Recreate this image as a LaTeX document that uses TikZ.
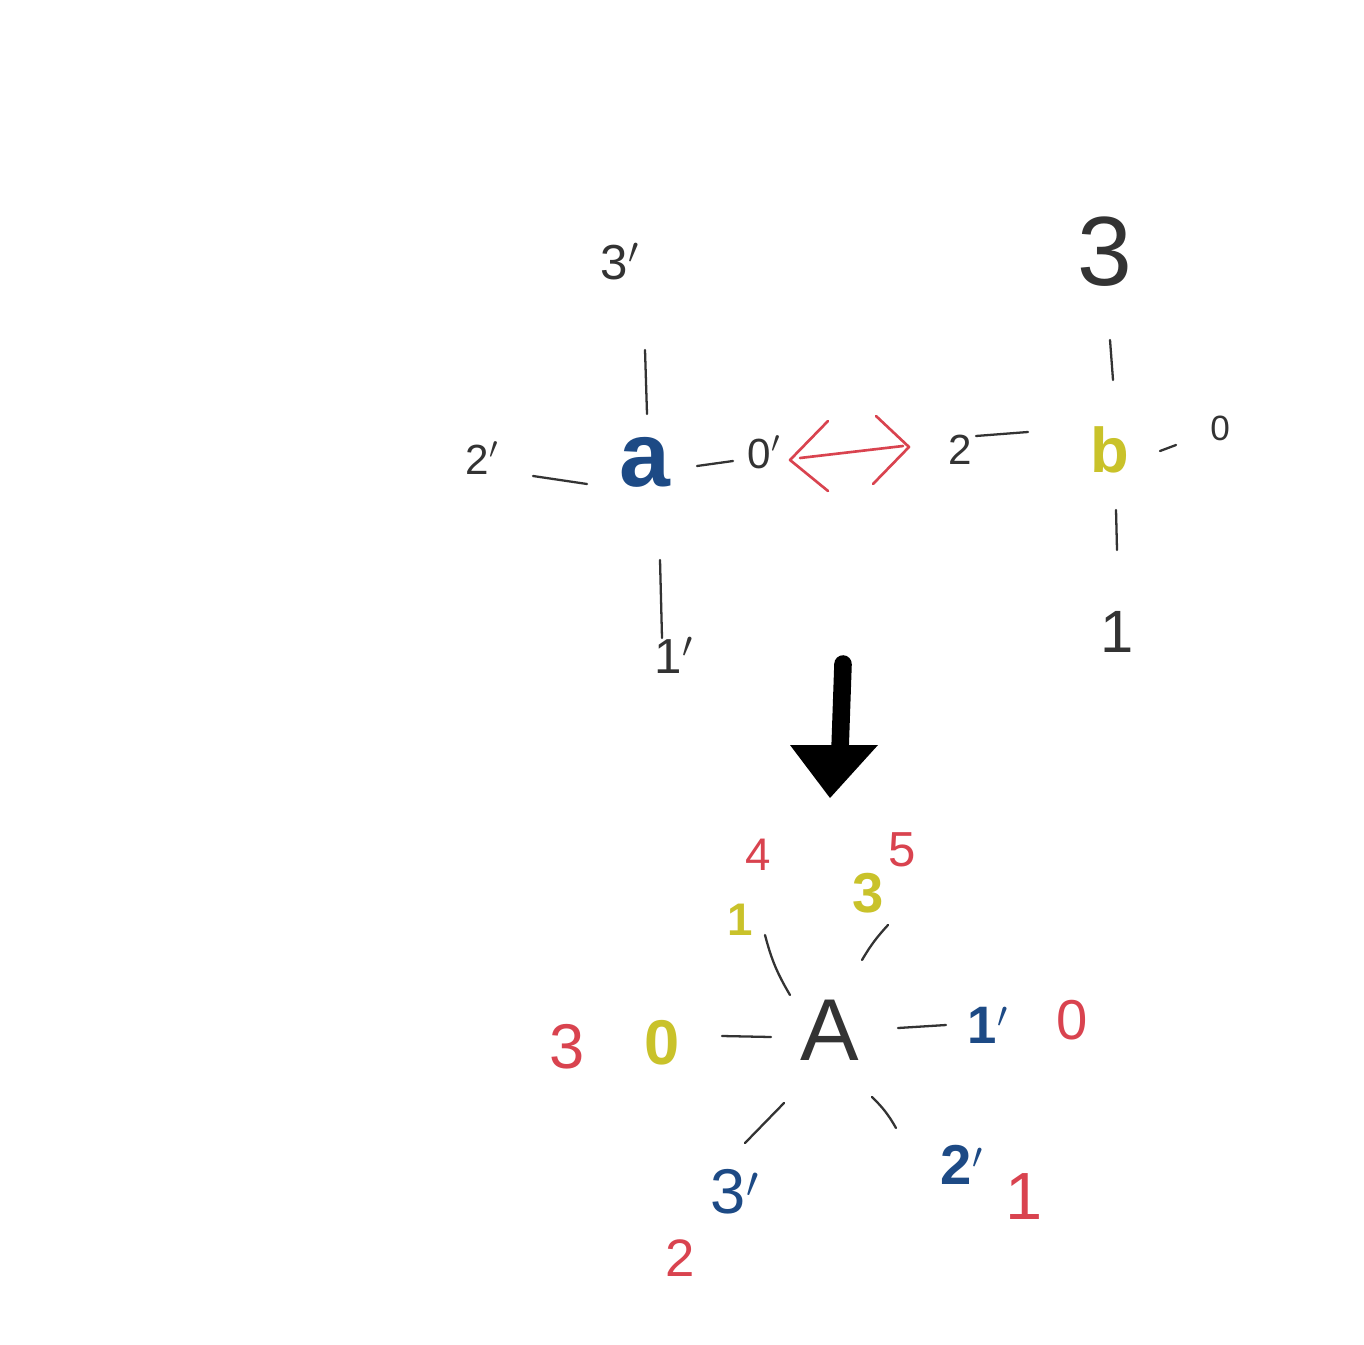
\documentclass[tikz,border=0pt]{standalone}
\usepackage{fontspec}
\setmainfont{Liberation Sans}
\usetikzlibrary{arrows.meta}
\definecolor{ink}{HTML}{333333}
\definecolor{blu}{HTML}{1D4A85}
\definecolor{yel}{HTML}{C9C22A}
\definecolor{rd}{HTML}{D9434F}
\tikzset{
  fs/.style={font=\fontsize{#1}{#1}\selectfont, inner sep=0pt},
  lb/.style={fs=#1, text=ink},
  stub/.style={draw=ink, line width=1.3pt, line cap=round},
  redstroke/.style={draw=rd, line width=1.5pt, line cap=round, line join=round},
}
\begin{document}
\begin{tikzpicture}[x=0.02cm, y=-0.02cm]
\useasboundingbox (0,0) rectangle (1364,1344);
\fill[white] (0,0) rectangle (1364,1344);

% ---------- node a ----------
\node[fs=52, text=blu, font=\fontsize{52}{52}\selectfont\bfseries] (a) at (645,462) {a};
\node[lb=28] (a3) at (620,262) {3$'$};
\node[lb=24] (a2) at (482,458) {2$'$};
\node[lb=24] (a0) at (764,452) {0$'$};
\node[lb=28] (a1) at (674,655) {1$'$};
\coordinate (aTu) at (645,350); \coordinate (aTd) at (647,414);
\coordinate (aLl) at (533,476); \coordinate (aLr) at (587,484);
\coordinate (aRl) at (697,466); \coordinate (aRr) at (733,461);
\coordinate (aBu) at (660,560); \coordinate (aBd) at (662,638);
\draw[stub] (aTu) -- (aTd);
\draw[stub] (aLl) -- (aLr);
\draw[stub] (aRl) -- (aRr);
\draw[stub] (aBu) -- (aBd);

% ---------- red double arrow ----------
\coordinate (dl) at (800,458); \coordinate (dr) at (903,446);
\coordinate (dlt) at (828,421); \coordinate (dlb) at (828,491);
\coordinate (drt) at (876,416); \coordinate (drb) at (873,484);
\coordinate (dlx) at (790,460); \coordinate (drx) at (909,447);
\draw[redstroke] (dl) -- (dr);
\draw[redstroke] (dlt) -- (dlx) -- (dlb);
\draw[redstroke] (drt) -- (drx) -- (drb);

% ---------- node b ----------
\node[fs=36, text=yel, font=\fontsize{36}{36}\selectfont\bfseries] (b) at (1110,450) {b};
\node[lb=56] (b3) at (1105,252) {3};
\node[lb=24] (b2) at (960,450) {2};
\node[lb=20] (b0) at (1220,428) {0};
\node[lb=34] (b1) at (1117,632) {1};
\coordinate (bTu) at (1110,340); \coordinate (bTd) at (1113,380);
\coordinate (bLl) at (976,436); \coordinate (bLr) at (1028,432);
\coordinate (bRl) at (1160,451); \coordinate (bRr) at (1176,445);
\coordinate (bBu) at (1116,510); \coordinate (bBd) at (1117,550);
\draw[stub] (bTu) -- (bTd);
\draw[stub] (bLl) -- (bLr);
\draw[stub] (bRl) -- (bRr);
\draw[stub] (bBu) -- (bBd);

% ---------- big arrow ----------
\coordinate (arTop) at (843,664);
\coordinate (arBase) at (840,750);
\coordinate (arTip) at (830,798);
\coordinate (arL) at (790,745);
\coordinate (arR) at (878,745);
\draw[black, line width=10pt, line cap=round] (arTop) -- (arBase);
\fill[black] (arL) -- (arR) -- (arTip) -- cycle;

% ---------- node A ----------
\node[lb=50] (A) at (830,1030) {A};
% inner labels
\node[fs=26, text=yel, font=\fontsize{26}{26}\selectfont\bfseries] (y1) at (740,920) {1};
\node[fs=32, text=yel, font=\fontsize{32}{32}\selectfont\bfseries] (y3) at (868,893) {3};
\node[fs=36, text=yel, font=\fontsize{36}{36}\selectfont\bfseries] (y0) at (662,1043) {0};
\node[fs=30, text=blu, font=\fontsize{30}{30}\selectfont\bfseries] (u1) at (988,1025) {1$'$};
\node[fs=36, text=blu] (u3) at (735,1192) {3$'$};
\node[fs=32, text=blu, font=\fontsize{32}{32}\selectfont\bfseries] (u2) at (962,1165) {2$'$};
% outer red labels
\node[fs=26, text=rd] (r4) at (758,855) {4};
\node[fs=28, text=rd] (r5) at (902,850) {5};
\node[fs=36, text=rd] (r3) at (567,1047) {3};
\node[fs=32, text=rd] (r0) at (1072,1020) {0};
\node[fs=30, text=rd] (r2) at (680,1258) {2};
\node[fs=38, text=rd] (r1) at (1024,1197) {1};
% stubs around A
\coordinate (s1a) at (765,935); \coordinate (s1b) at (790,995);
\coordinate (s2a) at (888,925); \coordinate (s2b) at (862,960);
\coordinate (s3a) at (722,1036); \coordinate (s3b) at (771,1037);
\coordinate (s4a) at (898,1028); \coordinate (s4b) at (946,1025);
\coordinate (s5a) at (784,1103); \coordinate (s5b) at (745,1143);
\coordinate (s6a) at (872,1097); \coordinate (s6b) at (896,1128);
\draw[stub] (s1a) to[bend right=8] (s1b);
\draw[stub] (s2a) to[bend right=6] (s2b);
\draw[stub] (s3a) -- (s3b);
\draw[stub] (s4a) -- (s4b);
\draw[stub] (s5a) -- (s5b);
\draw[stub] (s6a) to[bend left=8] (s6b);
\end{tikzpicture}
\end{document}
